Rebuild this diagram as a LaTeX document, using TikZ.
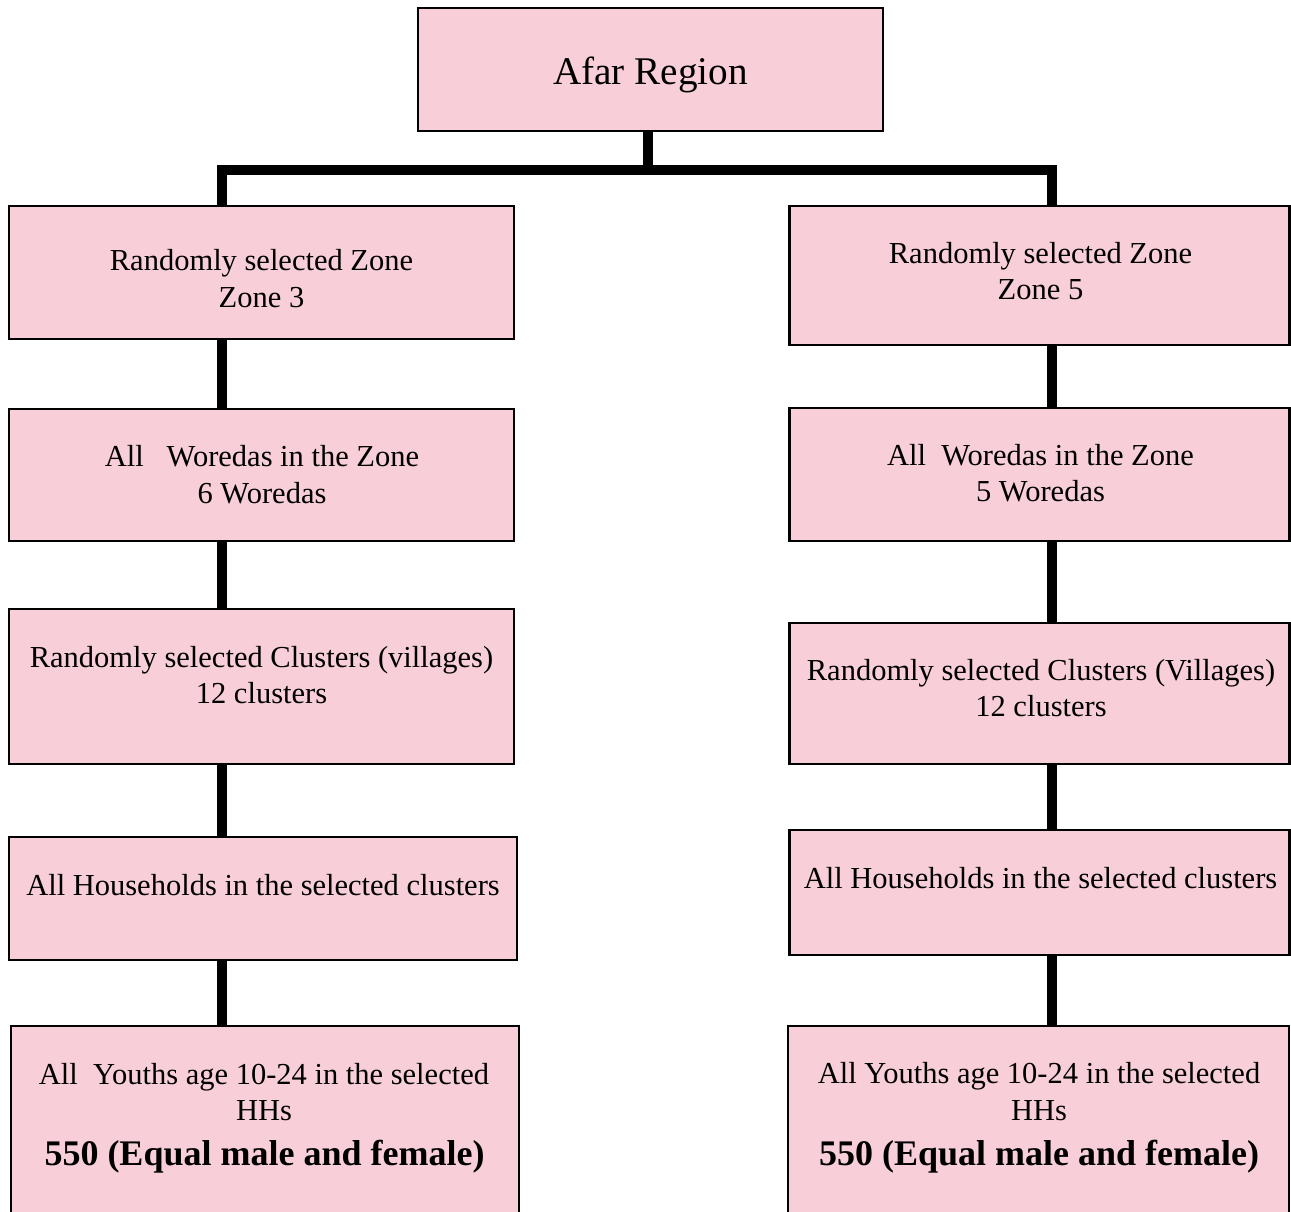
\documentclass[tikz,border=0pt]{standalone}
\usepackage{fontspec}
\setmainfont{Liberation Serif}
\definecolor{boxpink}{RGB}{248,207,216}
\tikzset{
  box/.style={draw=black, line width=2.6pt, fill=boxpink, rectangle, inner sep=0pt},
  txt/.style={anchor=base, inner sep=0pt, font=\fontsize{30.5}{36.6}\selectfont},
  bigtxt/.style={anchor=base, inner sep=0pt, font=\fontsize{39.2}{47}\selectfont},
  boldtxt/.style={anchor=base, inner sep=0pt, font=\fontsize{36}{43}\selectfont\bfseries},
  conn/.style={draw=black, line width=10pt, line join=miter}
}
\begin{document}
\begin{tikzpicture}[x=1pt, y=-1pt]
\useasboundingbox[fill=white] (0,0) rectangle (1291,1212);
% boxes
\node[box, minimum width=465pt, minimum height=123pt] (afar) at (650.5,69.5) {};
\node[box, minimum width=505pt, minimum height=133pt] (z3) at (261.5,272.5) {};
\node[box, minimum width=500pt, minimum height=139pt] (z5) at (1039.5,275.5) {};
\node[box, minimum width=505pt, minimum height=132pt] (w6) at (261.5,475) {};
\node[box, minimum width=500pt, minimum height=133pt] (w5) at (1039.5,474.5) {};
\node[box, minimum width=505pt, minimum height=155pt] (cl) at (261.5,686.5) {};
\node[box, minimum width=500pt, minimum height=141pt] (cr) at (1039.5,693.5) {};
\node[box, minimum width=508pt, minimum height=123pt] (hl) at (263,898.5) {};
\node[box, minimum width=500pt, minimum height=125pt] (hr) at (1039.5,892.5) {};
\node[box, minimum width=508pt, minimum height=200pt] (yl) at (265,1126) {};
\node[box, minimum width=501pt, minimum height=200pt] (yr) at (1038.5,1126) {};
% connector coordinates
\coordinate (mx) at (648,170);
\coordinate (lx) at (222,0);
\coordinate (rx) at (1051.7,0);
\draw[conn] (afar.south -| mx) -- (mx);
\draw[conn] (z3.north -| lx) |- (mx) -| (z5.north -| rx);
\draw[conn] (z3.south -| lx) -- (w6.north -| lx);
\draw[conn] (w6.south -| lx) -- (cl.north -| lx);
\draw[conn] (cl.south -| lx) -- (hl.north -| lx);
\draw[conn] (hl.south -| lx) -- (yl.north -| lx);
\draw[conn] (z5.south -| rx) -- (w5.north -| rx);
\draw[conn] (w5.south -| rx) -- (cr.north -| rx);
\draw[conn] (cr.south -| rx) -- (hr.north -| rx);
\draw[conn] (hr.south -| rx) -- (yr.north -| rx);
% texts
\node[bigtxt] (tafar) at (650.5,85) {Afar Region};
\node[txt] (tz3a) at (261.5,270) {Randomly selected Zone};
\node[txt] (tz3b) at (261.5,307) {Zone 3};
\node[txt] (tz5a) at (1040.5,263) {Randomly selected Zone};
\node[txt] (tz5b) at (1040.5,299.5) {Zone 5};
\node[txt] (tw6a) at (262,466.7) {All\ \ \ Woredas in the Zone};
\node[txt] (tw6b) at (262,503) {6 Woredas};
\node[txt] (tw5a) at (1040.5,465) {All\ \ Woredas in the Zone};
\node[txt] (tw5b) at (1040.5,501.7) {5 Woredas};
\node[txt] (tcla) at (261.5,667) {Randomly selected Clusters (villages)};
\node[txt] (tclb) at (261.5,703.5) {12 clusters};
\node[txt] (tcra) at (1041,680) {Randomly selected Clusters (Villages)};
\node[txt] (tcrb) at (1041,716.7) {12 clusters};
\node[txt] (thl) at (263,895) {All Households in the selected clusters};
\node[txt] (thr) at (1040.5,888.3) {All Households in the selected clusters};
\node[txt] (tyla) at (264,1084) {All\ \ Youths age 10-24 in the selected};
\node[txt] (tylb) at (264,1120.5) {HHs};
\node[boldtxt] (tylc) at (264.5,1165) {550 (Equal male and female)};
\node[txt] (tyra) at (1039,1083.3) {All Youths age 10-24 in the selected};
\node[txt] (tyrb) at (1039,1120.5) {HHs};
\node[boldtxt] (tyrc) at (1039,1165) {550 (Equal male and female)};
\end{tikzpicture}
\end{document}
